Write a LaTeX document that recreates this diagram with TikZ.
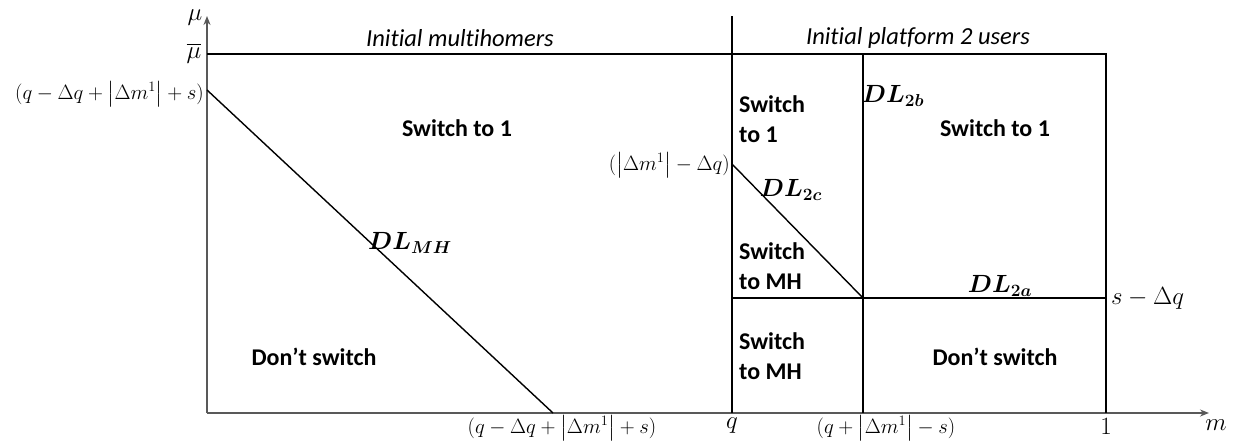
\documentclass[tikz,border=0pt]{standalone}
\usepackage{amsmath,bm}
\usepackage{fontspec}
\setmainfont{Carlito}[Ligatures={TeX,NoCommon}]
\usetikzlibrary{arrows.meta}
\tikzset{
  lbl/.style={font=\fontsize{24}{30}\selectfont\bfseries, inner sep=0pt, align=left},
  hdr/.style={font=\fontsize{24.5}{28}\selectfont\itshape, inner sep=0pt},
  mth/.style={font=\fontsize{20}{24}\selectfont, inner sep=0pt},
  dlab/.style={font=\fontsize{23}{26}\selectfont, inner sep=0pt},
  bigm/.style={font=\fontsize{25}{28}\selectfont, inner sep=0pt},
  bnd/.style={line width=1.4pt},
  ax/.style={line width=1.5pt, draw=black!65, -{Stealth[length=9pt,width=7pt]}}
}
\begin{document}
\begin{tikzpicture}[x=1pt,y=-1pt]
\useasboundingbox (0,0) rectangle (1234,442);
% coordinates
\coordinate (O) at (207,413);
\coordinate (ytip) at (207,16);
\coordinate (xtip) at (1209,413);
\coordinate (tl) at (207,54);
\coordinate (tr) at (1106,54);
\coordinate (br) at (1106,413);
\coordinate (qtop) at (732,16);
\coordinate (qbot) at (732,413);
\coordinate (btop) at (863,54);
\coordinate (bbot) at (863,413);
\coordinate (mid) at (863,298);
\coordinate (qmid) at (732,298);
\coordinate (rmid) at (1106,298);
\coordinate (mhs) at (207,90);
\coordinate (mhe) at (553,413);
\coordinate (cs) at (732,164);
% axes
\draw[ax] (O) -- (ytip);
\draw[ax] (O) -- (xtip);
% boundaries
\draw[bnd] (tl) -- (tr) -- (br);
\draw[bnd] (qtop) -- (qbot);
\draw[bnd] (btop) -- (bbot);
\draw[bnd] (qmid) -- (rmid);
\draw[bnd] (mhs) -- (mhe);
\draw[bnd] (cs) -- (mid);
% axis labels
\node[bigm] (mu) at (195,18) {$\mu$};
\node[bigm] (mubar) at (194,53) {$\overline{\mu}$};
\node[mth, anchor=east] (ylab1) at (204,94) {$(q-\Delta q+\left|\Delta m^1\right|+s)$};
\node[mth, anchor=east] (ylab2) at (730,165) {$(\left|\Delta m^1\right|-\Delta q)$};
\node[dlab, anchor=west] (ylab3) at (1111,298) {$s-\Delta q$};
\node[mth] (xlab1) at (562,428) {$(q-\Delta q+\left|\Delta m^1\right|+s)$};
\node[dlab] (xlab2) at (732,426) {$q$};
\node[mth] (xlab3) at (886,428) {$(q+\left|\Delta m^1\right|-s)$};
\node[dlab] (xlab4) at (1106,426) {$1$};
\node[bigm] (xlab5) at (1216,425) {$m$};
% headers
\node[hdr] (h1) at (460,38) {Initial multihomers};
\node[hdr] (h2) at (918,38) {Initial platform 2 users};
% region labels
\node[lbl] (r1) at (457,128) {Switch to 1};
\node[lbl] (r2) at (314,357) {Don’t switch};
\node[lbl, anchor=north west] (r3) at (739,95) {Switch\\to 1};
\node[lbl] (r4) at (995,128) {Switch to 1};
\node[lbl, anchor=north west] (r5) at (739,242) {Switch\\to MH};
\node[lbl, anchor=north west] (r6) at (739,332) {Switch\\to MH};
\node[lbl] (r7) at (995,357) {Don’t switch};
% decision lines labels
\node[dlab] (dlmh) at (410,243) {$\boldsymbol{DL}_{\boldsymbol{MH}}$};
\node[dlab] (dl2c) at (791,190) {$\boldsymbol{DL}_{\boldsymbol{2c}}$};
\node[dlab] (dl2b) at (893,96) {$\boldsymbol{DL}_{\boldsymbol{2b}}$};
\node[dlab] (dl2a) at (1000,286) {$\boldsymbol{DL}_{\boldsymbol{2a}}$};
\end{tikzpicture}
\end{document}
